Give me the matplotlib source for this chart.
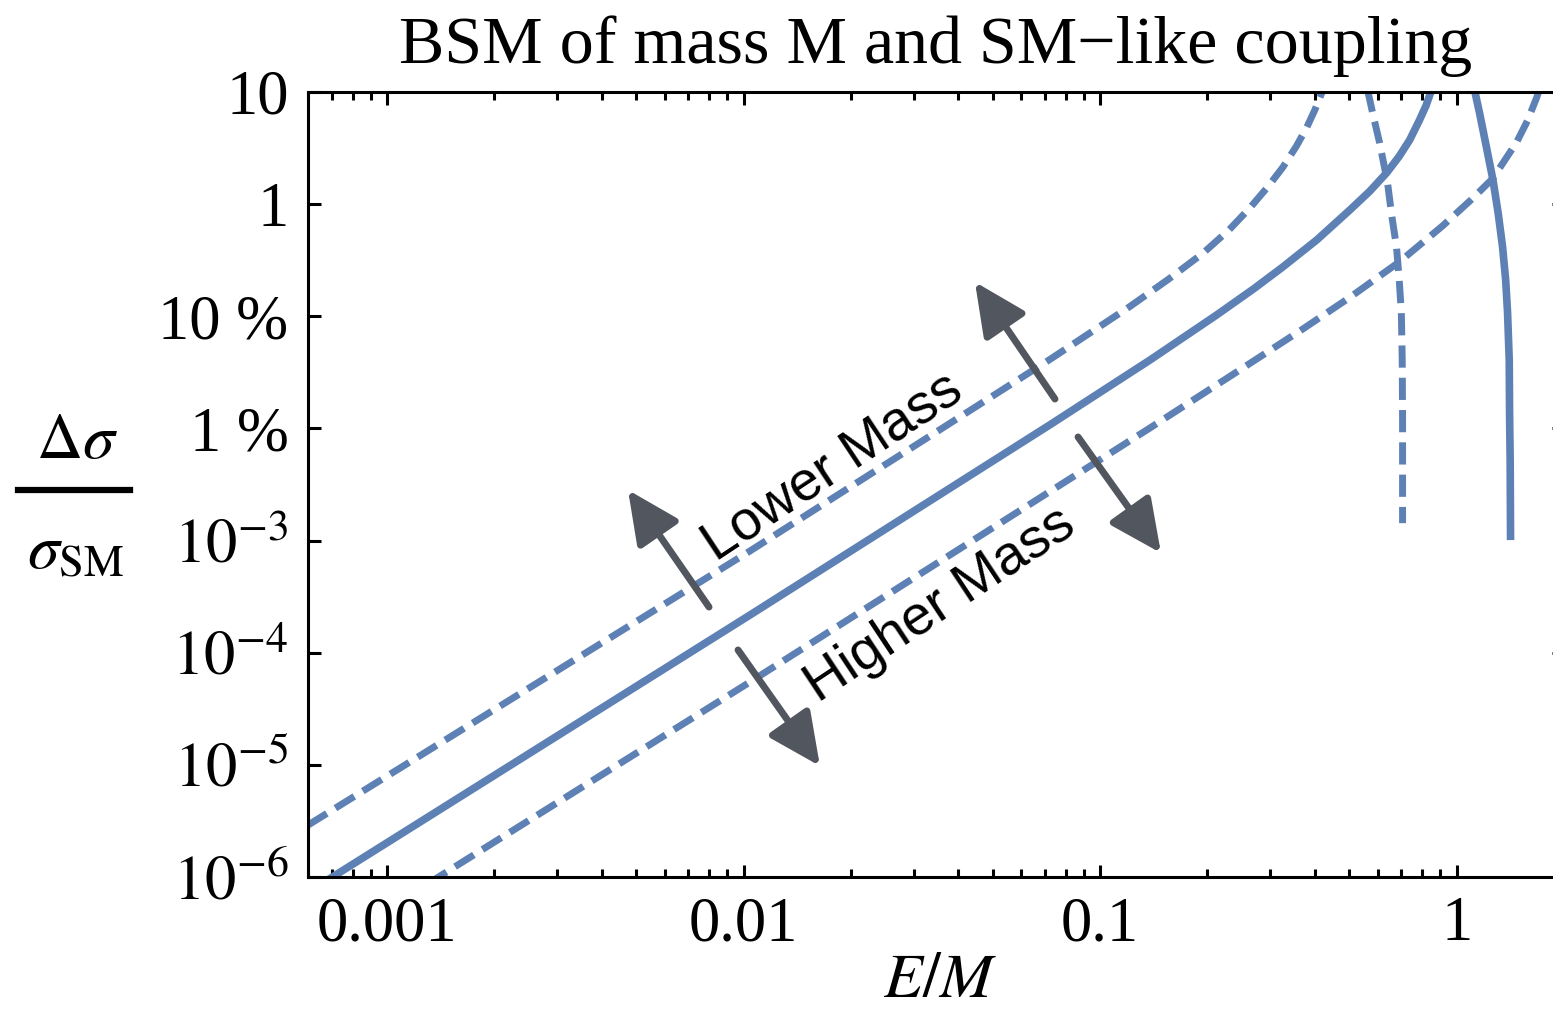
import numpy as np
import matplotlib.pyplot as plt
from matplotlib.lines import Line2D
from matplotlib.ticker import LogLocator, NullFormatter, NullLocator

# E/M and delta sigma / sigma_SM
solid_x = [0.0006, 0.0104, 0.0722, 0.138, 0.212, 0.27, 0.325, 0.405, 0.501, 0.57, 0.636, 0.69,
           0.738, 0.785, 0.82, 0.85, 0.87]
solid_y = [7.3e-7, 2.16e-4, 0.01074, 0.04075, 0.1025, 0.1764, 0.2746, 0.479, 0.8835, 1.30, 1.90, 2.67,
           3.73, 5.55, 7.53, 10.4, 13.6]

lower_x = [0.0006, 0.0102, 0.0722, 0.121, 0.155, 0.194, 0.23, 0.263, 0.295, 0.325, 0.355, 0.3795,
           0.40, 0.418, 0.43]
lower_y = [2.9e-6, 7.73e-4, 0.0411, 0.1218, 0.2125, 0.3636, 0.59, 0.925, 1.42, 2.12, 3.28, 4.81,
           6.9, 9.73, 13.0]

higher_x = [0.0013, 0.0104, 0.138, 0.2355, 0.363, 0.501, 0.692, 0.913, 1.1, 1.261, 1.472, 1.58,
            1.675, 1.76]
higher_y = [8.7e-7, 5.46e-5, 0.0101, 0.03025, 0.07386, 0.147, 0.3071, 0.6399, 1.10, 1.686, 3.556, 5.55,
            8.855, 14.08]

# the two near-vertical branches
vdash_x = [0.5625, 0.581, 0.608, 0.640, 0.657, 0.678, 0.690, 0.6995, 0.7035, 0.705, 0.705]
vdash_y = [10.4, 6.5, 3.51, 1.54, 0.80, 0.414, 0.2105, 0.107, 0.040, 0.012, 1.43e-3]

vsolid_x = [1.122, 1.159, 1.211, 1.264, 1.307, 1.345, 1.372, 1.389, 1.404, 1.407, 1.4125, 1.416]
vsolid_y = [10.4, 6.5, 3.25, 1.64, 0.834, 0.414, 0.2104, 0.107, 0.0407, 0.0137, 5.2e-3, 1.01e-3]

x_ticks = [0.001, 0.01, 0.1, 1]
x_labels = ['0.001', '0.01', '0.1', '1']
y_ticks = [1e-6, 1e-5, 1e-4, 1e-3, 1e-2, 1e-1, 1, 10]
y_labels = ['$10^{-6}$', '$10^{-5}$', '$10^{-4}$', '$10^{-3}$', '1 %', '10 %', '1', '10']
right_ticks = [1e-4, 1e-2, 1]

blue = '#5E81B5'
gray = '#52575F'

plt.rcParams['mathtext.fontset'] = 'stix'
plt.rcParams['font.family'] = 'Liberation Serif'

fig = plt.figure(figsize=(15.53, 10.14), dpi=100)
ax = fig.add_axes([0.1983, 0.1351, 0.8088, 0.7742])

ax.plot(solid_x, solid_y, color=blue, lw=5.5, solid_capstyle='butt')
ax.plot(vsolid_x, vsolid_y, color=blue, lw=5.5, solid_capstyle='butt')
for xs, ys in [(lower_x, lower_y), (higher_x, higher_y), (vdash_x, vdash_y)]:
    ax.plot(xs, ys, color=blue, lw=5.0, dashes=(3.2, 1.45))

ax.set_xscale('log')
ax.set_yscale('log')
ax.set_xlim(6e-4, 2)
ax.set_ylim(1e-6, 10)

ax.set_xticks(x_ticks, x_labels)
ax.xaxis.set_minor_locator(LogLocator(base=10, subs=np.arange(2, 10) * 1.0, numticks=20))
ax.xaxis.set_minor_formatter(NullFormatter())
ax.set_yticks(y_ticks, y_labels)
ax.yaxis.set_minor_locator(NullLocator())

ax.tick_params(which='both', direction='in', top=True, right=False, width=2.2, labelsize=45)
ax.tick_params(which='major', length=9)
ax.tick_params(which='minor', length=5.5)
ax.tick_params(axis='x', pad=14)
ax.tick_params(axis='y', pad=14)
for s in ax.spines.values():
    s.set_linewidth(2.2)

# right frame ticks (only every other decade)
ax_r = ax.twinx()
ax_r.set_yscale('log')
ax_r.set_ylim(1e-6, 10)
ax_r.set_yticks(right_ticks, [''] * len(right_ticks))
ax_r.yaxis.set_minor_locator(NullLocator())
ax_r.tick_params(direction='in', length=9, width=2.2)
ax_r.spines['right'].set_linewidth(2.2)

# arrows (axes fraction): tail -> tip
arrows = [((0.3193, 0.3439), (0.2548, 0.4930)),
          ((0.5947, 0.6089), (0.5310, 0.7580)),
          ((0.3424, 0.2892), (0.4076, 0.1414)),
          ((0.6131, 0.5605), (0.6791, 0.4127))]
for tail, tip in arrows:
    ax.annotate('', xy=tip, xytext=tail, xycoords='axes fraction', textcoords='axes fraction',
                arrowprops=dict(arrowstyle='-|>,head_length=0.8,head_width=0.38', mutation_scale=40,
                                lw=5, color=gray, shrinkA=0, shrinkB=0))

ax.text(0.418, 0.5223, 'Lower Mass', transform=ax.transAxes, rotation=33.5, rotation_mode='anchor',
        ha='center', va='center', fontsize=40, family='Liberation Sans')
ax.text(0.5032, 0.3465, 'Higher Mass', transform=ax.transAxes, rotation=33.5, rotation_mode='anchor',
        ha='center', va='center', fontsize=40, family='Liberation Sans')

fig.text(936 / 1553, 1 - 63 / 1014, 'BSM of mass M and SM\u2212like coupling',
         ha='center', va='baseline', fontsize=49)
fig.text(940 / 1553, 1 - 997 / 1014, r'$E/M$', ha='center', va='baseline', fontsize=46)

# y label as a stacked fraction
fig.text(77 / 1553, 1 - 443 / 1014, r'$\Delta\sigma$', ha='center', va='center', fontsize=46)
fig.add_artist(Line2D([18 / 1553, 130 / 1553], [1 - 490 / 1014] * 2, lw=4.5, color='k'))
fig.text(76 / 1553, 1 - 553 / 1014, r'$\sigma_{\mathrm{SM}}$', ha='center', va='center', fontsize=46)

plt.savefig('out.png')
